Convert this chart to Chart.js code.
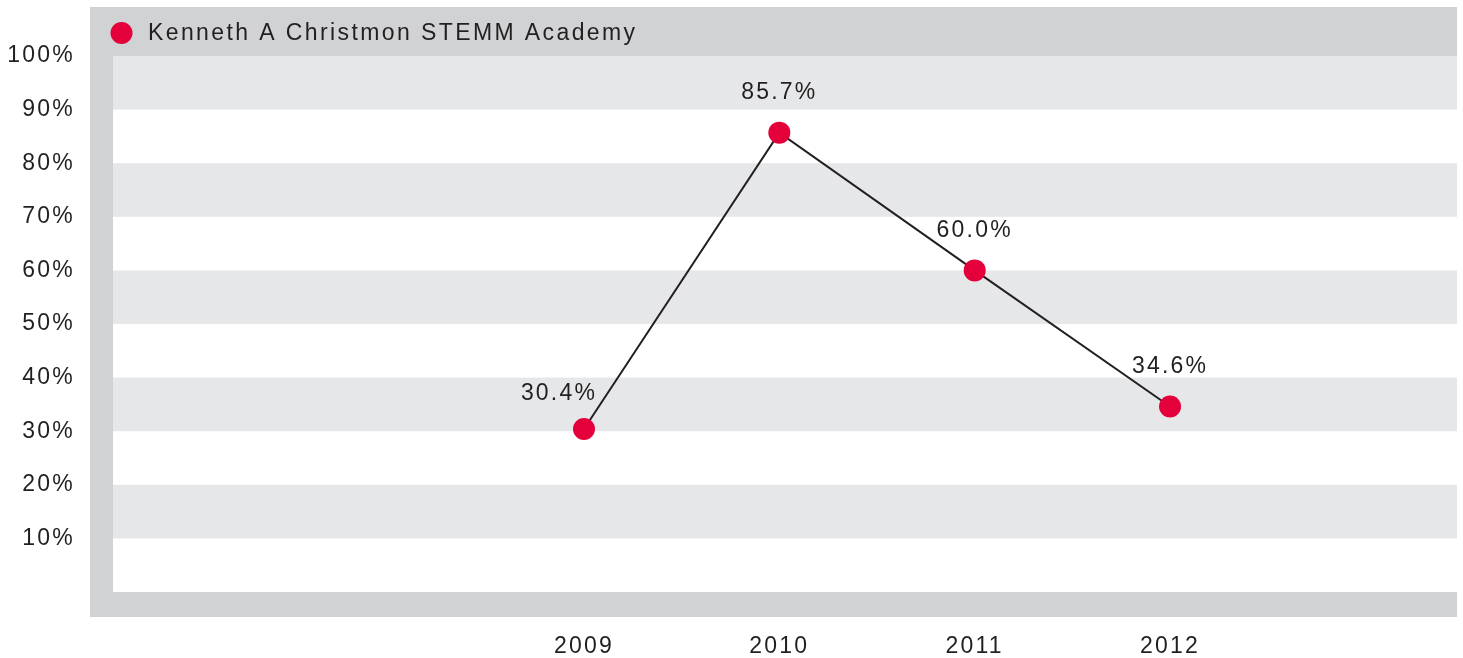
<!DOCTYPE html>
<html>
<head>
<meta charset="utf-8">
<script src="https://cdn.jsdelivr.net/npm/chart.js@4/dist/chart.umd.min.js"></script>
<style>
    html, body { margin: 0; padding: 0; background: #ffffff; overflow: hidden; }
    #wrap { width: 1463px; height: 658px; }
</style>
</head>
<body>
<div id="wrap"><canvas id="rateChart"></canvas></div>
<script>
// values
const schoolName = 'Kenneth A Christmon STEMM Academy';
const years = [2009, 2010, 2011, 2012];
const rates = [30.4, 85.7, 60.0, 34.6];
const yTickValues = [10, 20, 30, 40, 50, 60, 70, 80, 90, 100];

const frameGray = '#d1d2d4';
const stripeGray = '#e6e7e9';
const textColor = '#231f20';
const dotRed = '#e4003a';
const fontFamily = '"Liberation Sans", Arial, Helvetica, sans-serif';

Chart.defaults.font.family = fontFamily;
Chart.defaults.font.size = 23;
Chart.defaults.color = textColor;

// gray frame, striped background and legend
const framePlugin = {
    id: 'frame',
    beforeDraw(chart) {
        const ctx = chart.ctx;
        const area = chart.chartArea;
        const y = chart.scales.y;
        ctx.letterSpacing = '2.2px';

        ctx.save();
        ctx.fillStyle = frameGray;
        ctx.fillRect(90, 7, area.right - 90, area.top - 7);
        ctx.fillRect(90, 7, area.left - 90, 617 - 7);
        ctx.fillRect(90, area.bottom, area.right - 90, 617 - area.bottom);

        ctx.fillStyle = stripeGray;
        for (let v = 10; v < 100; v += 20) {
            const top = y.getPixelForValue(v + 10);
            const bottom = y.getPixelForValue(v);
            ctx.fillRect(area.left, top, area.right - area.left, bottom - top);
        }

        // legend
        ctx.fillStyle = dotRed;
        ctx.beginPath();
        ctx.arc(121.5, 33, 11, 0, Math.PI * 2);
        ctx.fill();
        ctx.fillStyle = textColor;
        ctx.font = '23px ' + fontFamily;
        ctx.letterSpacing = '2.4px';
        ctx.textAlign = 'left';
        ctx.textBaseline = 'middle';
        ctx.fillText(chart.data.datasets[0].label, 148, 34);
        ctx.restore();
    }
};

// value labels above the points
const valueLabels = {
    id: 'valueLabels',
    afterDatasetsDraw(chart) {
        const ctx = chart.ctx;
        const meta = chart.getDatasetMeta(0);
        ctx.save();
        ctx.fillStyle = textColor;
        ctx.font = '23px ' + fontFamily;
        ctx.textAlign = 'center';
        ctx.textBaseline = 'middle';
        meta.data.forEach((pt, i) => {
            // first label is nudged left so it clears the line
            const dx = i === 0 ? -25 : 0;
            const dy = i === 0 ? -35 : -40;
            ctx.fillText(rates[i].toFixed(1) + '%', pt.x + dx, pt.y + dy);
        });
        ctx.restore();
    }
};

new Chart(document.getElementById('rateChart'), {
    type: 'line',
    data: {
        datasets: [{
            label: schoolName,
            data: years.map((yr, i) => ({ x: yr, y: rates[i] })),
            borderColor: textColor,
            borderWidth: 2,
            pointRadius: 11,
            pointHoverRadius: 11,
            pointBackgroundColor: dotRed,
            pointBorderWidth: 0,
            tension: 0,
            clip: false
        }]
    },
    options: {
        responsive: true,
        maintainAspectRatio: false,
        animation: false,
        layout: {
            autoPadding: false,
            padding: { top: 56, right: 6, left: 0, bottom: 0 }
        },
        plugins: {
            legend: { display: false },
            tooltip: { enabled: false }
        },
        scales: {
            x: {
                type: 'linear',
                min: 2006.589,
                max: 2013.469,
                grid: { display: false },
                border: { display: false },
                afterBuildTicks: (axis) => {
                    axis.ticks = years.map(v => ({ value: v }));
                },
                afterFit: (axis) => {
                    axis.height = 66;
                    axis.paddingLeft = 0;
                    axis.paddingRight = 0;
                },
                ticks: {
                    padding: 33,
                    maxRotation: 0,
                    callback: (v) => String(v)
                }
            },
            y: {
                min: 0,
                max: 100,
                grid: { display: false },
                border: { display: false },
                afterBuildTicks: (axis) => {
                    axis.ticks = yTickValues.map(v => ({ value: v }));
                },
                afterFit: (axis) => { axis.width = 113; },
                ticks: {
                    padding: 30,
                    callback: (v) => v + '%'
                }
            }
        }
    },
    plugins: [framePlugin, valueLabels]
});
</script>
</body>
</html>
